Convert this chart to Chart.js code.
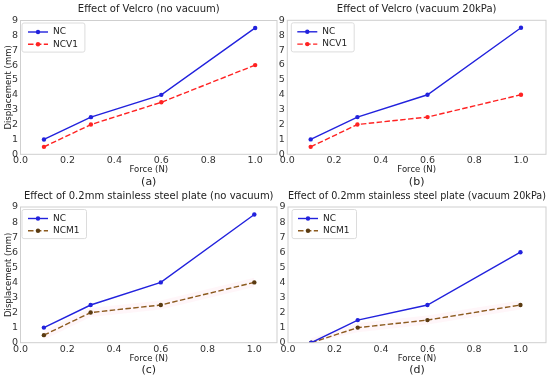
<!DOCTYPE html>
<html>
<head>
<meta charset="utf-8">
<script src="https://cdn.jsdelivr.net/npm/chart.js@4/dist/chart.umd.min.js"></script>
<style>
  body { margin: 0; background: #fff; }
  .wrap { position: relative; width: 550px; height: 380px; }
  .wrap canvas { position: absolute; left: 0; top: 0; }
</style>
</head>
<body>
<div class="wrap">
  <canvas id="pa" width="550" height="380"></canvas>
  <canvas id="pb" width="550" height="380"></canvas>
  <canvas id="pc" width="550" height="380"></canvas>
  <canvas id="pd" width="550" height="380"></canvas>
</div>
<script>
// data
const forces = [0.1, 0.3, 0.6, 1.0];
const xTicks = [0.0, 0.2, 0.4, 0.6, 0.8, 1.0];
const yTicks = [0, 1, 2, 3, 4, 5, 6, 7, 8, 9];

const ncA = [1, 2.5, 4, 8.5];
const ncv1A = [0.5, 2, 3.5, 6];
const ncB = [1, 2.5, 4, 8.5];
const ncv1B = [0.5, 2, 2.5, 4];
const ncC = [1, 2.5, 4, 8.5];
const ncm1C = [0.5, 2, 2.5, 4];
const ncm1CHi = [0.8, 2.3, 2.8, 4.3];
const ncm1CLo = [0.2, 1.7, 2.2, 3.7];
const ncD = [0, 1.5, 2.5, 6];
const ncm1D = [0, 1, 1.5, 2.5];
const ncm1DHi = [0.3, 1.3, 1.8, 2.8];
const ncm1DLo = [0, 0.7, 1.2, 2.2];

const FONT = '"DejaVu Sans", sans-serif';
const BLUE = '#2222dd';
const RED = '#ff2222';
const BROWN = '#8c5a1e';

const pts = vals => forces.map((f, i) => ({ x: f, y: vals[i] }));

function line(label, vals, color, dashed) {
    return {
        label: label,
        data: pts(vals),
        borderColor: color,
        backgroundColor: color,
        pointBackgroundColor: color === BROWN ? '#5a3a10' : color,
        pointBorderWidth: 0,
        pointRadius: 2.2,
        borderWidth: 1.4,
        borderDash: dashed ? [5.5, 2.4] : [],
        tension: 0
    };
}

function band(vals, fill) {
    return {
        data: pts(vals),
        borderWidth: 0,
        pointRadius: 0,
        backgroundColor: 'rgba(255, 170, 200, 0.1)',
        fill: fill
    };
}

// light grey box around the axes
const frame = {
    id: 'frame',
    afterDatasetsDraw(chart) {
        const { ctx, chartArea: a } = chart;
        ctx.save();
        ctx.strokeStyle = '#cfcfcf';
        ctx.lineWidth = 1;
        ctx.strokeRect(a.left, a.top, a.width, a.height);
        ctx.restore();
    }
};

// matplotlib style legend in the upper left corner
const boxLegend = {
    id: 'boxLegend',
    afterDatasetsDraw(chart, args, opts) {
        const { ctx, chartArea: a } = chart;
        const items = chart.data.datasets.filter(d => d.label);
        ctx.save();
        ctx.font = '9px ' + FONT;
        const x0 = a.left + opts.dx;
        const y0 = a.top + 2.5;
        const w = 32 + Math.max(...items.map(d => ctx.measureText(d.label).width)) + 6;
        const h = items.length * 12.3 + 4.5;
        ctx.beginPath();
        ctx.roundRect(x0, y0, w, h, 2);
        ctx.fillStyle = 'rgba(255,255,255,0.8)';
        ctx.fill();
        ctx.strokeStyle = '#dcdcdc';
        ctx.lineWidth = 1;
        ctx.stroke();
        items.forEach((d, i) => {
            const y = y0 + 9 + i * 12.3;
            ctx.strokeStyle = d.borderColor;
            ctx.lineWidth = d.borderWidth;
            ctx.setLineDash(d.borderDash);
            ctx.beginPath();
            ctx.moveTo(x0 + 6, y);
            ctx.lineTo(x0 + 26, y);
            ctx.stroke();
            ctx.setLineDash([]);
            ctx.fillStyle = d.pointBackgroundColor;
            ctx.beginPath();
            ctx.arc(x0 + 16, y, d.pointRadius, 0, 2 * Math.PI);
            ctx.fill();
            ctx.fillStyle = '#222';
            ctx.textBaseline = 'middle';
            ctx.fillText(d.label, x0 + 31, y);
        });
        ctx.restore();
    }
};

const panels = [
    { id: 'pa', title: 'Effect of Velcro (no vacuum)', tag: '(a)',
      area: [20.5, 20.5, 277, 154.3], xMax: 1.093, yTitle: true, legendDx: 1.5,
      datasets: [line('NC', ncA, BLUE, false), line('NCV1', ncv1A, RED, true)] },
    { id: 'pb', title: 'Effect of Velcro (vacuum 20kPa)', tag: '(b)',
      area: [287.3, 20.3, 548, 154.3], xMax: 1.107, yTitle: false, legendDx: 4,
      datasets: [line('NC', ncB, BLUE, false), line('NCV1', ncv1B, RED, true)] },
    { id: 'pc', title: 'Effect of 0.2mm stainless steel plate (no vacuum)', tag: '(c)',
      area: [20.5, 207, 277, 342.7], xMax: 1.097, yTitle: true, legendDx: 1.5,
      datasets: [line('NC', ncC, BLUE, false), line('NCM1', ncm1C, BROWN, true),
                 band(ncm1CHi, '+1'), band(ncm1CLo, false)] },
    { id: 'pd', title: 'Effect of 0.2mm stainless steel plate (vacuum 20kPa)', tag: '(d)',
      area: [288, 207, 548, 342.7], xMax: 1.11, yTitle: false, legendDx: 4,
      datasets: [line('NC', ncD, BLUE, false), line('NCM1', ncm1D, BROWN, true),
                 band(ncm1DHi, '+1'), band(ncm1DLo, false)] }
];

panels.forEach(p => {
    const [l, t, r, b] = p.area;
    const yw = p.yTitle ? l : 14;
    const xh = 21;
    new Chart(document.getElementById(p.id), {
        type: 'line',
        data: { datasets: p.datasets },
        plugins: [frame, boxLegend],
        options: {
            responsive: false,
            animation: false,
            layout: { padding: { left: l - yw, right: 550 - r, top: t - 20.5, bottom: 380 - b - xh - 13.2 } },
            plugins: {
                legend: { display: false },
                tooltip: { enabled: false },
                boxLegend: { dx: p.legendDx },
                title: {
                    display: true, text: p.title, fullSize: false, color: '#222',
                    font: { family: FONT, size: 10, weight: 'normal' },
                    padding: { top: 3.5, bottom: 5 }
                },
                subtitle: {
                    display: true, text: p.tag, position: 'bottom', fullSize: false, color: '#222',
                    font: { family: FONT, size: 11, weight: 'normal' },
                    padding: { top: 0, bottom: 0 }
                }
            },
            scales: {
                x: {
                    type: 'linear', min: 0, max: p.xMax,
                    grid: { display: false, drawTicks: false },
                    border: { display: false },
                    afterBuildTicks: s => { s.ticks = xTicks.map(v => ({ value: v })); },
                    afterFit: s => { s.height = xh; },
                    ticks: { color: '#333', padding: 1, maxRotation: 0, autoSkip: false,
                             font: { family: FONT, size: 9.5 }, callback: v => v.toFixed(1) },
                    title: { display: true, text: 'Force (N)', color: '#222', padding: 0,
                             font: { family: FONT, size: 8.5 } }
                },
                y: {
                    min: 0, max: 9,
                    grid: { display: false, drawTicks: false },
                    border: { display: false },
                    afterBuildTicks: s => { s.ticks = yTicks.map(v => ({ value: v })); },
                    afterFit: s => { s.width = yw; },
                    ticks: { color: '#333', padding: 2.5, autoSkip: false,
                             font: { family: FONT, size: 9.5 }, callback: v => String(v) },
                    title: { display: p.yTitle, text: 'Displacement (mm)', color: '#222',
                             padding: { top: 4, bottom: 0 }, font: { family: FONT, size: 8.5 } }
                }
            }
        }
    });
});
</script>
</body>
</html>
